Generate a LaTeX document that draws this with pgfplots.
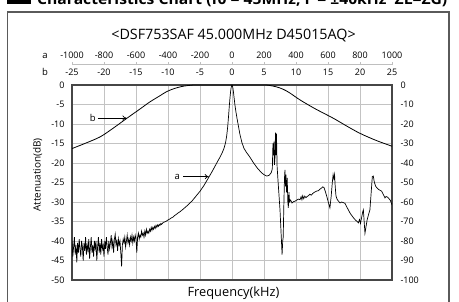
\documentclass[border=0pt]{standalone}
\usepackage{pgfplots}
\pgfplotsset{compat=1.18}
\usepackage{graphicx}
\usepackage{fontspec}
\setmainfont{Open Sans}
\usetikzlibrary{arrows.meta}
\definecolor{gridc}{RGB}{195,195,195}
\definecolor{framec}{RGB}{70,70,70}
\definecolor{boxc}{RGB}{90,90,90}
\begin{document}
\begin{tikzpicture}[x=1pt,y=1pt]
\useasboundingbox (0,0) rectangle (459,302);
\clip (0,0) rectangle (459,302);
% outer frame
\draw[boxc, line width=1.2pt] (7.5,-5) -- (7.5,290) -- (449,290) -- (449,-5);
% header (clipped at top, as in the reference)
\fill[black] (7,297.5) rectangle (31,306);
\node[anchor=base west, inner sep=0, font=\bfseries\fontsize{14.5}{14.5}\selectfont] at (37,297.2)
  {\resizebox{410pt}{\height}{Characteristics Chart (f0 = 45MHz, F = ±40kHz\ \ ZL=ZG)}};
% title
\node[anchor=base, inner sep=0, font=\fontsize{14.3}{14.3}\selectfont] at (233.5,262) {<DSF753SAF 45.000MHz D45015AQ>};
% row letters
\node[anchor=base, inner sep=0, font=\fontsize{9.5}{9.5}\selectfont] at (45,243.8) {a};
\node[anchor=base, inner sep=0, font=\fontsize{9.5}{9.5}\selectfont] at (45,226.3) {b};
% separator line between rows
\draw[gray!50, line width=0.6pt] (72,238) -- (392,238);
\foreach \i in {0,...,10} { \draw[gray!50, line width=0.6pt] (72+32*\i,236.5) -- (72+32*\i,239.5); }
% axis labels
\node[rotate=90, inner sep=0, font=\fontsize{10}{10}\selectfont] at (37.5,127) {Attenuation(dB)};
\node[inner sep=0, font=\fontsize{12.8}{12.8}\selectfont] at (233.5,9) {Frequency(kHz)};

\begin{axis}[
  at={(72pt,22pt)}, anchor=south west,
  width=320pt, height=195pt, scale only axis,
  xmin=-25, xmax=25, ymin=-50, ymax=0,
  xtick={-25,-20,...,25},
  xticklabels={-25,-20,-15,-10,-5,0,5,10,15,20,25},
  ytick={-50,-45,...,0},
  yticklabels={-50,-45,-40,-35,-30,-25,-20,-15,-10,-5,0},
  xticklabel pos=upper, yticklabel pos=left,
  major tick length=0pt,
  grid=major,
  grid style={gridc, line width=0.8pt},
  axis line style={framec, line width=1.4pt},
  tick label style={font=\fontsize{9}{9}\selectfont},
  xticklabel style={anchor=base, yshift=9.3pt},
  yticklabel style={xshift=-4pt},
  clip=true,
]
\addplot[black, line width=0.8pt, smooth, tension=0.5] coordinates {
(-25,-16.3) (-23,-15.0) (-20.6,-13.3) (-18.5,-11.0) (-16.4,-8.5) (-14.5,-6.3)
(-12.8,-4.3) (-11.5,-3.0) (-10.2,-1.7) (-9,-0.9) (-7.6,-0.3) (-6.3,-0.05) (-5.5,0)
(0,0) (4.8,0) (5.8,-0.1) (7,-0.5) (8,-1.1) (9,-2.0) (10.6,-3.8) (13,-6.1) (15.8,-8.5)
(18,-10.6) (20,-12.4) (22.5,-14.2) (25,-15.7)
};
\end{axis}

\begin{axis}[
  at={(72pt,22pt)}, anchor=south west,
  width=320pt, height=195pt, scale only axis,
  xmin=-1000, xmax=1000, ymin=-100, ymax=0,
  xtick={-1000,-800,...,1000},
  xticklabels={-1000,-800,-600,-400,-200,0,200,400,600,800,1000},
  ytick={-100,-90,...,0},
  yticklabels={-100,-90,-80,-70,-60,-50,-40,-30,-20,-10,0},
  xticklabel pos=upper, yticklabel pos=right,
  major tick length=0pt,
  axis line style={draw=none},
  tick label style={font=\fontsize{9}{9}\selectfont},
  xticklabel style={anchor=base, yshift=26.8pt},
  yticklabel style={xshift=5pt},
  clip=true,
]
\addplot[black, line width=0.7pt] table {
-1000 -80
-995 -88
-990 -83
-985 -78
-980 -87
-975 -82
-970 -91
-965 -81
-960 -86
-955 -79
-950 -84
-945 -88
-940 -80
-935 -83
-930 -90
-925 -81
-920 -85
-915 -78
-910 -87
-905 -82
-900 -85
-895 -79
-890 -89
-885 -83
-880 -78
-875 -86
-870 -82
-865 -88
-860 -80
-855 -84
-850 -80
-845 -90
-840 -83
-835 -78
-830 -86
-825 -81
-820 -87
-815 -79
-810 -84
-805 -82
-800 -88
-795 -80
-790 -84
-785 -78
-780 -83
-775 -87
-770 -80
-765 -84
-760 -81
-755 -77
-750 -83
-745 -80
-740 -86
-735 -79
-730 -76.5
-725 -82
-720 -80
-715 -85
-710 -79
-705 -82
-700 -80
-695 -86
-690 -93
-685 -82
-680 -79
-675 -81
-670 -78
-665 -83
-660 -80
-655 -77
-650 -81
-645 -79
-640 -82
-635 -78
-630 -80
-625 -77
-620 -81
-615 -78
-610 -80
-605 -77
-600 -79
-595 -86
-590 -78
-585 -76
-580 -79
-575 -77
-570 -78
-565 -75
-560 -77
-555 -76
-550 -78
-545 -75
-540 -77
-535 -74
-530 -76
-525 -75
-520 -76
-515 -74
-510 -75
-505 -73
-500 -74.5
-495 -73
-490 -74
-485 -72.5
-480 -73.5
-475 -72
-470 -73
-465 -71.8
-460 -72.5
-455 -71.5
-450 -72
-445 -71
-440 -71.5
-430 -70.5
-420 -70.2
-410 -69.8
-400 -69.2
-390 -68.8
-380 -68.2
-370 -67.8
-360 -67
-350 -66.5
-340 -65.8
-325 -65
-300 -63.3
-275 -61.5
-250 -59.5
-225 -57
-200 -54.5
-175 -51.5
-150 -48
-125 -44.5
-106 -41.6
-90 -39.2
-75 -37
-60 -34.5
-50 -32.5
-40 -29.5
-33 -26
-27 -21.5
-22 -16.5
-17 -11
-13 -7
-9 -3.5
-5 -1.2
-2 -0.2
0 0
2 -0.2
5 -1.2
9 -3.5
13 -6.5
18 -10
24 -13.5
30 -16.5
40 -21
50 -25.5
62 -29.5
75 -32.5
90 -34.5
112 -37
135 -40
160 -42.8
185 -45
200 -46
217 -46.7
232 -46.3
245 -45
252 -43
256 -30
259 -36
262 -29
265 -41
268 -38
272 -24.4
275 -36
278 -25
282 -42
290 -52
300 -64
308 -78
313 -87
317 -80
320 -78
324 -62
328 -48
331 -43.5
334 -52
337 -46
341 -55
345 -47.6
349 -60
352 -63
356 -55
360 -60
366 -59
375 -60.5
385 -59.8
394 -59.6
405 -59
415 -58.5
425 -58.8
432 -57.3
437 -58.8
442 -56.8
448 -58.3
455 -57
462 -57.8
470 -57.2
480 -56.6
487 -56
495 -56.5
505 -55.6
515 -55
529 -54.4
540 -54.2
550 -53.4
560 -52.8
567 -52.2
575 -52.6
583 -54.5
592 -57
600 -59.5
612 -63
620 -57
627 -50
632 -46
637 -48
641 -46
645 -52
650 -57
658 -58.8
665 -59.5
675 -60.5
685 -60
695 -60.3
706 -60.7
717 -62.5
727 -64
740 -66
752 -67.3
763 -68.5
775 -69.5
785 -70.2
790 -70.7
797 -69
803 -71
810 -68
817 -65
821 -64
826 -70
831 -76
837 -73
845 -69
855 -66
862 -64
870 -55
877 -47
883 -46.7
890 -50
898 -52
906 -52.7
915 -53.5
925 -54
935 -54.4
945 -56
956 -57.9
963 -57.2
972 -57.5
980 -58.2
990 -59.2
1000 -61.5
};
% annotations
\node[anchor=east, inner sep=0, font=\fontsize{9.5}{9.5}\selectfont] at (axis cs:-850,-16.9) {b};
\draw[-{To[length=4pt,width=5pt]}, line width=0.6pt] (axis cs:-838,-16.9) -- (axis cs:-660,-16.9);
\node[anchor=east, inner sep=0, font=\fontsize{9.5}{9.5}\selectfont] at (axis cs:-325,-47) {a};
\draw[-{To[length=4pt,width=5pt]}, line width=0.6pt] (axis cs:-305,-47) -- (axis cs:-145,-47);
\end{axis}
\end{tikzpicture}
\end{document}
